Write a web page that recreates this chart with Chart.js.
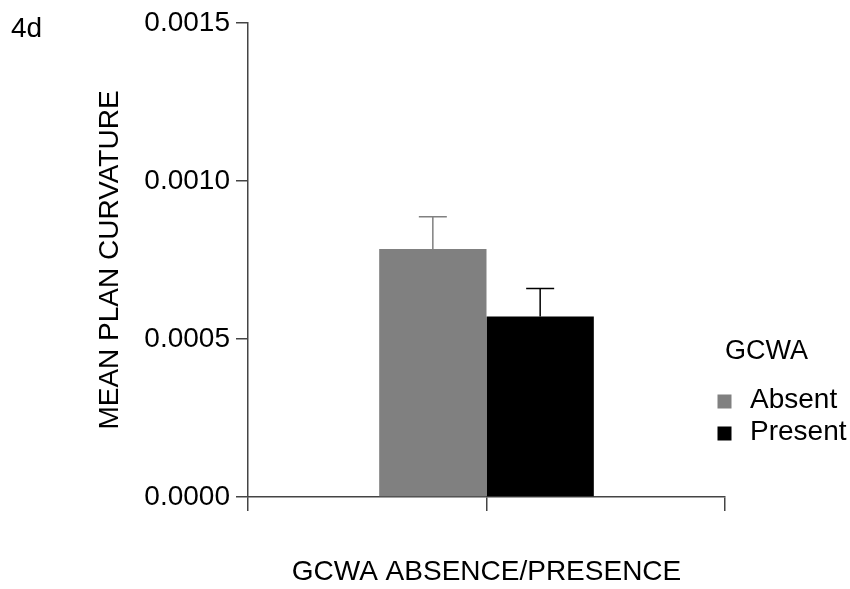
<!DOCTYPE html>
<html>
<head>
<meta charset="utf-8">
<script src="https://cdn.jsdelivr.net/npm/chart.js@4/dist/chart.umd.min.js"></script>
<style>
  html, body { margin: 0; padding: 0; background: #fff; }
</style>
</head>
<body>
<canvas id="chart" width="850" height="589"></canvas>
<script>
// Datos
const categories = ['GCWA ABSENCE/PRESENCE'];
const groupLabels = ['Absent', 'Present'];
const meanAbsent = [0.000785];
const meanPresent = [0.000571];
const seAbsent = [0.000102];
const sePresent = [0.000089];
const yTicks = [0, 0.0005, 0.0010, 0.0015];
const yTitle = 'MEAN PLAN CURVATURE';
const panelLabel = '4d';
const legendTitle = 'GCWA';

const FONT = "'Liberation Sans', Arial, sans-serif";
const AXIS = '#444';

// barras de error (solo la parte superior)
const errorBars = {
  id: 'errorBars',
  afterDatasetsDraw(chart) {
    const ctx = chart.ctx;
    const y = chart.scales.y;
    chart.data.datasets.forEach((ds, i) => {
      const meta = chart.getDatasetMeta(i);
      meta.data.forEach((bar, j) => {
        const top = y.getPixelForValue(ds.data[j] + ds.errors[j]);
        ctx.save();
        ctx.strokeStyle = ds.errorColor;
        ctx.lineWidth = 1.5;
        ctx.beginPath();
        ctx.moveTo(bar.x, bar.y);
        ctx.lineTo(bar.x, top);
        ctx.moveTo(bar.x - 14, top);
        ctx.lineTo(bar.x + 14, top);
        ctx.stroke();
        ctx.restore();
      });
    });
  }
};

// leyenda a la derecha y etiqueta del panel
const sideLegend = {
  id: 'sideLegend',
  afterDraw(chart) {
    const ctx = chart.ctx;
    ctx.save();
    ctx.fillStyle = '#000';
    ctx.textBaseline = 'middle';
    ctx.font = '27px ' + FONT;
    ctx.fillText(legendTitle, 725, 352);
    ctx.font = '28px ' + FONT;
    chart.data.datasets.forEach((ds, i) => {
      const cy = 401.5 + i * 32;
      ctx.fillStyle = ds.backgroundColor;
      ctx.fillRect(717.5, cy - 7, 14, 14);
      ctx.fillStyle = '#000';
      ctx.fillText(ds.label, 750, cy - 1);
    });
    ctx.textBaseline = 'alphabetic';
    ctx.fillText(panelLabel, 11, 37);
    ctx.restore();
  }
};

new Chart(document.getElementById('chart').getContext('2d'), {
  type: 'bar',
  data: {
    labels: categories,
    datasets: [
      {
        label: groupLabels[0],
        data: meanAbsent,
        errors: seAbsent,
        errorColor: '#808080',
        backgroundColor: '#808080',
        borderWidth: 0,
        categoryPercentage: 0.45,
        barPercentage: 1.0
      },
      {
        label: groupLabels[1],
        data: meanPresent,
        errors: sePresent,
        errorColor: '#000000',
        backgroundColor: '#000000',
        borderWidth: 0,
        categoryPercentage: 0.45,
        barPercentage: 1.0
      }
    ]
  },
  options: {
    responsive: false,
    animation: false,
    layout: { padding: { left: 93, right: 125, top: 23, bottom: 0 } },
    plugins: {
      legend: { display: false },
      tooltip: { enabled: false }
    },
    scales: {
      x: { display: false },
      x2: {
        type: 'category',
        labels: ['', ''],
        position: 'bottom',
        offset: true,
        grid: {
          offset: true,
          drawOnChartArea: false,
          drawTicks: true,
          tickLength: 14,
          color: AXIS,
          lineWidth: 1.5
        },
        border: { display: true, color: AXIS, width: 1.5 },
        ticks: { display: false },
        title: {
          display: true,
          text: categories[0],
          color: '#000',
          font: { family: FONT, size: 28 },
          padding: 0
        },
        afterFit: s => { s.height = 92; }
      },
      y: {
        min: 0,
        max: 0.0015,
        afterBuildTicks: s => { s.ticks = yTicks.map(v => ({ value: v })); },
        grid: {
          drawOnChartArea: false,
          drawTicks: true,
          tickLength: 12,
          color: AXIS,
          lineWidth: 1.5
        },
        border: { display: true, color: AXIS, width: 1.5 },
        ticks: {
          color: '#000',
          padding: 6,
          font: { family: FONT, size: 28 },
          callback: v => Number(v).toFixed(4)
        },
        title: {
          display: true,
          text: yTitle,
          color: '#000',
          font: { family: FONT, size: 28 },
          padding: 0
        },
        afterFit: s => { s.width = 155; }
      }
    }
  },
  plugins: [errorBars, sideLegend]
});
</script>
</body>
</html>
